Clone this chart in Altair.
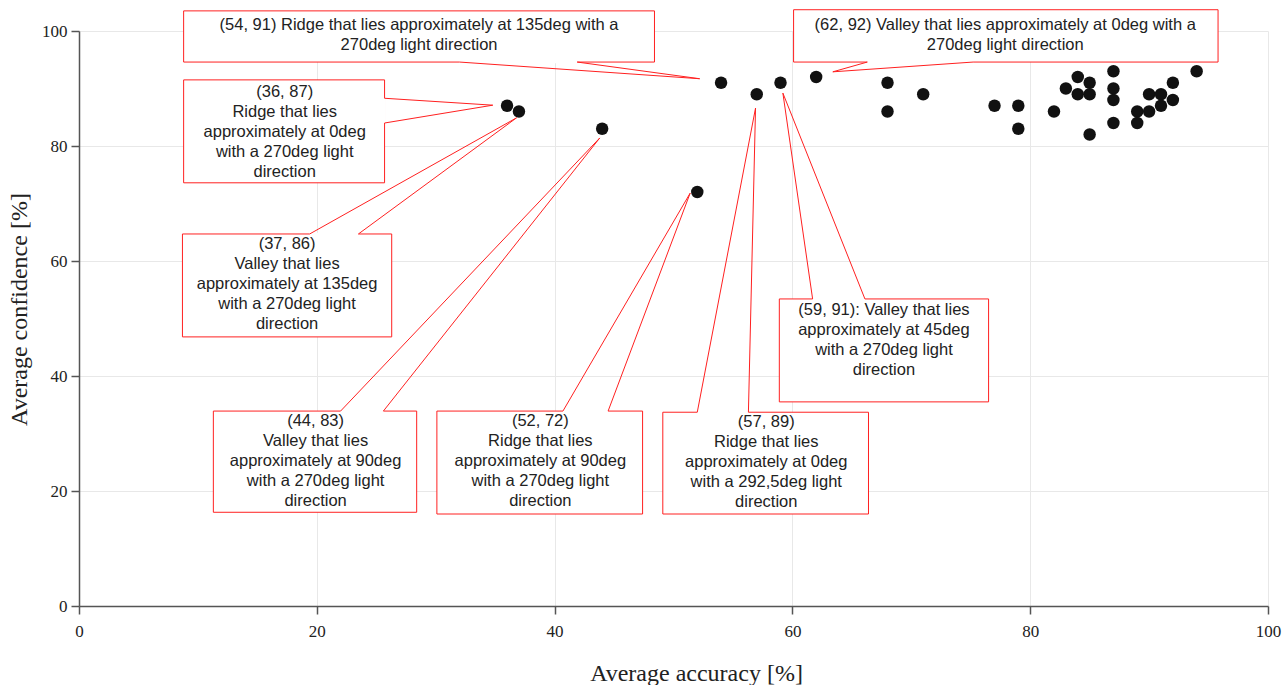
import altair as alt
import pandas as pd

# ---- data ----
accuracy = [36, 37, 44, 52, 54, 57, 59, 62,
            68, 68, 71, 77, 79, 79, 82, 83, 84, 84, 85, 85, 85, 87, 87, 87, 87,
            89, 89, 90, 90, 91, 91, 92, 92, 94]
confidence = [87, 86, 83, 72, 91, 89, 91, 92,
              91, 86, 89, 87, 87, 83, 86, 90, 92, 89, 91, 89, 82, 93, 90, 88, 84,
              86, 84, 89, 86, 89, 87, 88, 91, 93]

notes = [
    "(54, 91) Ridge that lies approximately at 135deg with a\n270deg light direction",
    "(62, 92) Valley that lies approximately at 0deg with a\n270deg light direction",
    "(36, 87)\nRidge that lies\napproximately at 0deg\nwith a 270deg light\ndirection",
    "(37, 86)\nValley that lies\napproximately at 135deg\nwith a 270deg light\ndirection",
    "(44, 83)\nValley that lies\napproximately at 90deg\nwith a 270deg light\ndirection",
    "(52, 72)\nRidge that lies\napproximately at 90deg\nwith a 270deg light\ndirection",
    "(57, 89)\nRidge that lies\napproximately at 0deg\nwith a 292,5deg light\ndirection",
    "(59, 91): Valley that lies\napproximately at 45deg\nwith a 270deg light\ndirection",
]

# ---- callout layout (in axis units) ----
box_x0 = [8.8, 60.1, 8.8, 8.7, 11.3, 30.1, 49.1, 58.9]
box_x1 = [48.4, 95.8, 25.7, 26.3, 28.4, 47.4, 66.4, 76.5]
box_y0 = [94.6, 94.6, 73.6, 46.8, 16.3, 16.0, 16.0, 35.5]
box_y1 = [103.5, 103.7, 91.5, 64.7, 33.9, 33.9, 33.7, 53.4]
base_ax = [32.0, 66.3, 25.7, 19.4, 22.0, 40.7, 52.0, 61.7]
base_ay = [94.6, 94.6, 88.3, 64.7, 33.9, 33.9, 33.7, 53.4]
base_bx = [41.9, 75.2, 25.7, 23.5, 25.6, 44.5, 56.3, 66.1]
base_by = [94.6, 94.6, 84.0, 64.7, 33.9, 33.9, 33.7, 53.4]
tip_x = [52.2, 63.4, 34.8, 36.8, 43.8, 51.4, 56.9, 59.2]
tip_y = [91.7, 92.9, 87.1, 84.9, 81.4, 71.8, 86.6, 89.2]
text_x = [28.6, 77.9, 17.3, 17.5, 19.9, 38.8, 57.8, 67.7]
text_y = [102.5, 102.5, 90.8, 64.4, 33.6, 33.6, 33.4, 52.9]

pts = pd.DataFrame({"acc": accuracy, "conf": confidence})
ann = pd.DataFrame({
    "x0": box_x0, "x1": box_x1, "y0": box_y0, "y1": box_y1,
    "ax": base_ax, "ay": base_ay, "bx": base_bx, "by": base_by,
    "tx": tip_x, "ty": tip_y, "lx": text_x, "ly": text_y, "note": notes,
})

xscale = alt.Scale(domain=[0, 100], nice=False, zero=False)
yscale = alt.Scale(domain=[0, 100], nice=False, zero=False)

points = alt.Chart(pts).mark_circle(size=155, color="#111111", opacity=1).encode(
    x=alt.X("acc:Q", scale=xscale, title="Average accuracy [%]",
            axis=alt.Axis(values=[0, 20, 40, 60, 80, 100], labelPadding=9,
                          labelFlush=False, titleX=617, titleAlign="center",
                          titleY=67, titleBaseline="middle")),
    y=alt.Y("conf:Q", scale=yscale, title="Average confidence [%]",
            axis=alt.Axis(values=[0, 20, 40, 60, 80, 100], labelPadding=4,
                          labelFlush=False,
                          titleX=-60, titleY=278, titleAngle=-90,
                          titleAlign="center", titleBaseline="middle")),
)

boxes = alt.Chart(ann).mark_rect(fill="white", stroke="#ff2020", strokeWidth=1).encode(
    x=alt.X("x0:Q", scale=xscale), x2="x1:Q",
    y=alt.Y("y0:Q", scale=yscale), y2="y1:Q",
)

gaps = alt.Chart(ann).mark_rule(color="white", strokeWidth=2.5).encode(
    x=alt.X("ax:Q", scale=xscale), y=alt.Y("ay:Q", scale=yscale),
    x2="bx:Q", y2="by:Q",
)

side_a = alt.Chart(ann).mark_rule(color="#ff2020", strokeWidth=1).encode(
    x=alt.X("ax:Q", scale=xscale), y=alt.Y("ay:Q", scale=yscale),
    x2="tx:Q", y2="ty:Q",
)
side_b = alt.Chart(ann).mark_rule(color="#ff2020", strokeWidth=1).encode(
    x=alt.X("bx:Q", scale=xscale), y=alt.Y("by:Q", scale=yscale),
    x2="tx:Q", y2="ty:Q",
)

labels = alt.Chart(ann).mark_text(
    font="Liberation Sans", fontSize=16.5, color="#222222", align="center",
    baseline="top", lineBreak="\n", lineHeight=20,
).encode(
    x=alt.X("lx:Q", scale=xscale), y=alt.Y("ly:Q", scale=yscale), text="note:N",
)

chart = alt.layer(points, boxes, gaps, side_a, side_b, labels).properties(
    width=1189, height=575,
    padding={"left": 79, "top": 31, "right": 20, "bottom": 79},
    autosize=alt.AutoSizeParams(type="none"),
).configure_view(stroke=None).configure_axis(
    domainColor="#555555", domainWidth=1.5, tickColor="#555555", tickSize=8,
    tickWidth=1.5, gridColor="#e8e8e8", gridWidth=1,
    labelFont="Liberation Serif", labelFontSize=17, labelColor="#222222",
    titleFont="Liberation Serif", titleFontSize=24, titleFontWeight="normal",
    titleColor="#222222",
)

chart.save("out.html", embed_options={"renderer": "svg", "actions": False})
